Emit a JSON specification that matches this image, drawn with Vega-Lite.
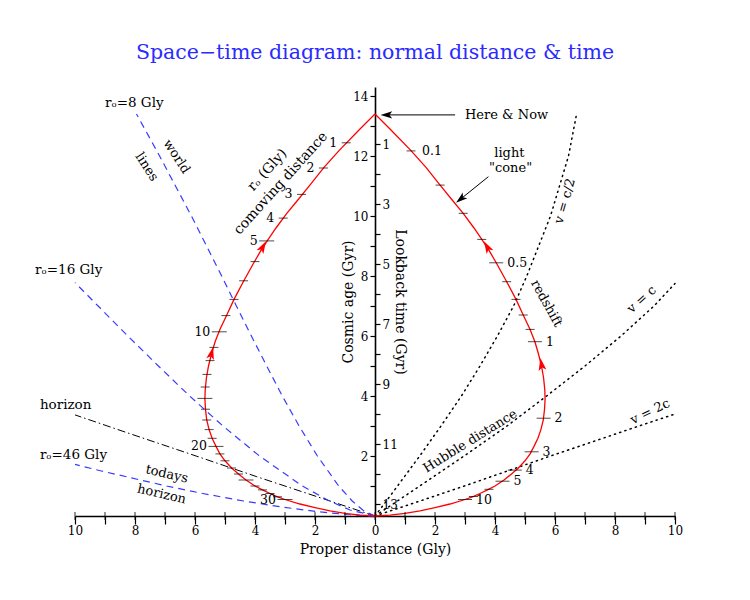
{
"$schema": "https://vega.github.io/schema/vega-lite/v6.json",
"width": 600,
"height": 429,
"autosize": {"type": "none"},
"padding": {"left": 75, "top": 87, "right": 75, "bottom": 84},
"background": "white",
"title": {"text": "Space−time diagram: normal distance & time", "color": "#2b2bff", "font": "DejaVu Serif", "fontSize": 20.5, "fontWeight": "normal", "anchor": "middle", "offset": 24},
"config": {
  "view": {"stroke": null},
  "axis": {"labelFont": "DejaVu Serif", "titleFont": "DejaVu Serif", "labelFontSize": 12, "titleFontSize": 14, "titleFontWeight": "normal", "labelColor": "black", "titleColor": "black", "domainColor": "black", "tickColor": "black", "grid": false, "labelOverlap": false, "labelFlush": false},
  "text": {"font": "DejaVu Serif", "fontSize": 13, "color": "black"}
},
"datasets": {
  "cone": [
    {"b":"R","x":0,"y":13.4},{"b":"R","x":0.5,"y":12.9},{"b":"R","x":1.2,"y":12.18},{"b":"R","x":1.7,"y":11.62},{"b":"R","x":2.17,"y":11.03},{"b":"R","x":2.6,"y":10.5},{"b":"R","x":2.94,"y":10.09},{"b":"R","x":3.3,"y":9.6},{"b":"R","x":3.56,"y":9.22},{"b":"R","x":3.82,"y":8.82},{"b":"R","x":4.04,"y":8.44},{"b":"R","x":4.39,"y":7.81},{"b":"R","x":4.7,"y":7.22},{"b":"R","x":4.94,"y":6.7},{"b":"R","x":5.17,"y":6.22},{"b":"R","x":5.33,"y":5.81},{"b":"R","x":5.45,"y":5.4},{"b":"R","x":5.55,"y":5.0},{"b":"R","x":5.62,"y":4.6},{"b":"R","x":5.66,"y":4.2},{"b":"R","x":5.67,"y":3.9},{"b":"R","x":5.65,"y":3.55},{"b":"R","x":5.61,"y":3.2},{"b":"R","x":5.53,"y":2.88},{"b":"R","x":5.43,"y":2.59},{"b":"R","x":5.3,"y":2.32},{"b":"R","x":5.17,"y":2.07},{"b":"R","x":5.0,"y":1.84},{"b":"R","x":4.78,"y":1.6},{"b":"R","x":4.55,"y":1.4},{"b":"R","x":4.3,"y":1.2},{"b":"R","x":4.0,"y":1.0},{"b":"R","x":3.75,"y":0.87},{"b":"R","x":3.5,"y":0.75},{"b":"R","x":3.25,"y":0.64},{"b":"R","x":3.0,"y":0.55},{"b":"R","x":2.5,"y":0.4},{"b":"R","x":2.0,"y":0.28},{"b":"R","x":1.5,"y":0.17},{"b":"R","x":1.0,"y":0.09},{"b":"R","x":0.5,"y":0.03},{"b":"R","x":0,"y":0},
    {"b":"L","x":0,"y":13.4},{"b":"L","x":-0.5,"y":12.9},{"b":"L","x":-1.2,"y":12.18},{"b":"L","x":-1.7,"y":11.62},{"b":"L","x":-2.17,"y":11.03},{"b":"L","x":-2.6,"y":10.5},{"b":"L","x":-2.94,"y":10.09},{"b":"L","x":-3.3,"y":9.6},{"b":"L","x":-3.56,"y":9.22},{"b":"L","x":-3.82,"y":8.82},{"b":"L","x":-4.04,"y":8.44},{"b":"L","x":-4.39,"y":7.81},{"b":"L","x":-4.7,"y":7.22},{"b":"L","x":-4.94,"y":6.7},{"b":"L","x":-5.17,"y":6.22},{"b":"L","x":-5.33,"y":5.81},{"b":"L","x":-5.45,"y":5.4},{"b":"L","x":-5.55,"y":5.0},{"b":"L","x":-5.62,"y":4.6},{"b":"L","x":-5.66,"y":4.2},{"b":"L","x":-5.67,"y":3.9},{"b":"L","x":-5.65,"y":3.55},{"b":"L","x":-5.61,"y":3.2},{"b":"L","x":-5.53,"y":2.88},{"b":"L","x":-5.43,"y":2.59},{"b":"L","x":-5.3,"y":2.32},{"b":"L","x":-5.17,"y":2.07},{"b":"L","x":-5.0,"y":1.84},{"b":"L","x":-4.78,"y":1.6},{"b":"L","x":-4.55,"y":1.4},{"b":"L","x":-4.3,"y":1.2},{"b":"L","x":-4.0,"y":1.0},{"b":"L","x":-3.75,"y":0.87},{"b":"L","x":-3.5,"y":0.75},{"b":"L","x":-3.25,"y":0.64},{"b":"L","x":-3.0,"y":0.55},{"b":"L","x":-2.5,"y":0.4},{"b":"L","x":-2.0,"y":0.28},{"b":"L","x":-1.5,"y":0.17},{"b":"L","x":-1.0,"y":0.09},{"b":"L","x":-0.5,"y":0.03},{"b":"L","x":0,"y":0}
  ],
  "comoving": [
    {"d":1,"lab":"1","x":-0.96,"y":12.44},{"d":2,"lab":"2","x":-1.72,"y":11.6},{"d":3,"lab":"3","x":-2.45,"y":10.72},{"d":4,"lab":"4","x":-3.06,"y":9.93},{"d":5,"lab":"5","x":-3.61,"y":9.17},{"d":6,"lab":"","x":-4.0,"y":8.48},{"d":7,"lab":"","x":-4.38,"y":7.84},{"d":8,"lab":"","x":-4.7,"y":7.22},{"d":9,"lab":"","x":-4.97,"y":6.68},{"d":10,"lab":"10","x":-5.19,"y":6.14},{"d":11,"lab":"","x":-5.37,"y":5.62},{"d":12,"lab":"","x":-5.5,"y":5.18},{"d":13,"lab":"","x":-5.6,"y":4.72},{"d":14,"lab":"","x":-5.66,"y":4.3},{"d":15,"lab":"","x":-5.67,"y":3.92},{"d":16,"lab":"","x":-5.65,"y":3.56},{"d":17,"lab":"","x":-5.61,"y":3.2},{"d":18,"lab":"","x":-5.53,"y":2.88},{"d":19,"lab":"","x":-5.43,"y":2.59},{"d":20,"lab":"20","x":-5.3,"y":2.32},{"d":21,"lab":"","x":-5.17,"y":2.07},{"d":22,"lab":"","x":-5.0,"y":1.84},{"d":23,"lab":"","x":-4.78,"y":1.6},{"d":24,"lab":"","x":-4.55,"y":1.4},{"d":25,"lab":"","x":-4.3,"y":1.2},{"d":26,"lab":"","x":-4.0,"y":1.0},{"d":27,"lab":"","x":-3.75,"y":0.87},{"d":28,"lab":"","x":-3.5,"y":0.75},{"d":29,"lab":"","x":-3.25,"y":0.64},{"d":30,"lab":"30","x":-3.0,"y":0.55}
  ],
  "redshift": [
    {"z":0.1,"lab":"0.1","x":1.2,"y":12.17},{"z":0.2,"lab":"","x":2.17,"y":11.03},{"z":0.3,"lab":"","x":2.94,"y":10.09},{"z":0.4,"lab":"","x":3.56,"y":9.22},{"z":0.5,"lab":"0.5","x":4.04,"y":8.44},{"z":0.6,"lab":"","x":4.39,"y":7.81},{"z":0.7,"lab":"","x":4.7,"y":7.22},{"z":0.8,"lab":"","x":4.94,"y":6.7},{"z":0.9,"lab":"","x":5.17,"y":6.22},{"z":1,"lab":"1","x":5.33,"y":5.81},{"z":2,"lab":"2","x":5.62,"y":3.26},{"z":3,"lab":"3","x":5.22,"y":2.14},{"z":4,"lab":"4","x":4.66,"y":1.53},{"z":5,"lab":"5","x":4.25,"y":1.16},{"z":6,"lab":"","x":3.8,"y":0.89},{"z":8,"lab":"","x":3.28,"y":0.65},{"z":10,"lab":"10","x":3.0,"y":0.55}
  ],
  "world": [
    {"r":8,"x":-7.95,"y":13.4},{"r":8,"x":-7.18,"y":12},{"r":8,"x":-6.12,"y":10},{"r":8,"x":-5.11,"y":8},{"r":8,"x":-4.62,"y":7},{"r":8,"x":-4.12,"y":6},{"r":8,"x":-3.61,"y":5},{"r":8,"x":-3.09,"y":4},{"r":8,"x":-2.53,"y":3},{"r":8,"x":-1.92,"y":2},{"r":8,"x":-1.21,"y":1},{"r":8,"x":-0.76,"y":0.5},{"r":8,"x":-0.41,"y":0.2},{"r":8,"x":0,"y":0},
    {"r":16,"x":-10,"y":7.78},{"r":16,"x":-9.23,"y":7},{"r":16,"x":-8.24,"y":6},{"r":16,"x":-7.22,"y":5},{"r":16,"x":-6.18,"y":4},{"r":16,"x":-5.07,"y":3},{"r":16,"x":-3.85,"y":2},{"r":16,"x":-2.42,"y":1},{"r":16,"x":-1.52,"y":0.5},{"r":16,"x":-0.83,"y":0.2},{"r":16,"x":0,"y":0},
    {"r":46,"x":-10,"y":1.72},{"r":46,"x":-9.12,"y":1.5},{"r":46,"x":-6.95,"y":1},{"r":46,"x":-5.74,"y":0.75},{"r":46,"x":-4.38,"y":0.5},{"r":46,"x":-3.11,"y":0.3},{"r":46,"x":-1.96,"y":0.15},{"r":46,"x":-0.94,"y":0.05},{"r":46,"x":-0.32,"y":0.01},{"r":46,"x":0,"y":0}
  ],
  "horizon": [
    {"x":-10,"y":3.37},{"x":-8.1,"y":2.72},{"x":-6.17,"y":2.07},{"x":-3.94,"y":1.31},{"x":-1.8,"y":0.6},{"x":0,"y":0}
  ],
  "hubble": [
    {"v":"c/2","x":0,"y":0},{"v":"c/2","x":0.38,"y":0.5},{"v":"c/2","x":0.75,"y":1},{"v":"c/2","x":1.49,"y":2},{"v":"c/2","x":2.2,"y":3},{"v":"c/2","x":2.88,"y":4},{"v":"c/2","x":3.5,"y":5},{"v":"c/2","x":4.08,"y":6},{"v":"c/2","x":4.62,"y":7},{"v":"c/2","x":5.06,"y":8},{"v":"c/2","x":5.85,"y":10},{"v":"c/2","x":6.45,"y":12},{"v":"c/2","x":6.72,"y":13.4},
    {"v":"c","x":0,"y":0},{"v":"c","x":0.75,"y":0.5},{"v":"c","x":1.49,"y":1},{"v":"c","x":2.97,"y":2},{"v":"c","x":4.4,"y":3},{"v":"c","x":5.72,"y":4},{"v":"c","x":7.0,"y":5},{"v":"c","x":8.2,"y":6},{"v":"c","x":9.3,"y":7},{"v":"c","x":10,"y":7.75},
    {"v":"2c","x":0,"y":0},{"v":"2c","x":1.5,"y":0.5},{"v":"2c","x":2.98,"y":1},{"v":"2c","x":5.85,"y":2},{"v":"2c","x":8.8,"y":3},{"v":"2c","x":10,"y":3.4}
  ],
  "xticks": [
    {"x":-10,"y":0},{"x":-9,"y":0},{"x":-8,"y":0},{"x":-7,"y":0},{"x":-6,"y":0},{"x":-5,"y":0},{"x":-4,"y":0},{"x":-3,"y":0},{"x":-2,"y":0},{"x":-1,"y":0},{"x":0,"y":0},{"x":1,"y":0},{"x":2,"y":0},{"x":3,"y":0},{"x":4,"y":0},{"x":5,"y":0},{"x":6,"y":0},{"x":7,"y":0},{"x":8,"y":0},{"x":9,"y":0},{"x":10,"y":0}
  ]
},
"encoding": {
  "x": {"field": "x", "type": "quantitative", "scale": {"domain": [-10, 10], "nice": false, "zero": false},
        "axis": {"title": "Proper distance (Gly)", "values": [-10,-9,-8,-7,-6,-5,-4,-3,-2,-1,0,1,2,3,4,5,6,7,8,9,10],
                 "labelExpr": "datum.value % 2 == 0 ? format(abs(datum.value), 'd') : ''",
                 "tickSize": 8, "tickWidth": 1.2, "domainWidth": 1.6, "labelPadding": 1, "titlePadding": 6}},
  "y": {"field": "y", "type": "quantitative", "scale": {"domain": [0, 14.3], "nice": false, "zero": false}, "axis": null}
},
"resolve": {"axis": {"y": "independent"}},
"layer": [
  {"data": {"name": "hubble"}, "mark": {"type": "line", "color": "black", "strokeWidth": 1.5, "strokeDash": [1.2, 4.3], "strokeCap": "round"},
   "encoding": {"detail": {"field": "v"}, "order": {"field": "y"}}},
  {"data": {"name": "horizon"}, "mark": {"type": "line", "color": "black", "strokeWidth": 1, "strokeDash": [8, 3, 1.5, 3]},
   "encoding": {"order": {"field": "y"}}},
  {"data": {"name": "world"}, "mark": {"type": "line", "color": "#3a3aff", "strokeWidth": 1.2, "strokeDash": [7, 5]},
   "encoding": {"detail": {"field": "r"}, "order": {"field": "y"}}},
  {"data": {"name": "cone"}, "mark": {"type": "line", "color": "#ff0000", "strokeWidth": 1.3},
   "encoding": {
     "y": {"field": "y", "type": "quantitative", "scale": {"domain": [0, 14.3], "nice": false, "zero": false},
           "axis": {"orient": "left", "offset": -300, "values": [0,1,2,3,4,5,6,7,8,9,10,11,12,13,14],
                    "labelExpr": "datum.value % 2 == 0 && datum.value > 0 ? format(datum.value, 'd') : ''",
                    "tickSize": 5, "tickWidth": 1.2, "domainWidth": 1.6, "labelPadding": 2, "title": "Cosmic age (Gyr)", "titlePadding": -3}},
     "detail": {"field": "b"}, "order": {"field": "y"}}},
  {"data": {"name": "comoving"}, "transform": [{"filter": "datum.d % 5 != 0"}],
   "mark": {"type": "tick", "orient": "horizontal", "size": 9, "thickness": 1, "color": "black"}},
  {"data": {"name": "comoving"}, "transform": [{"filter": "datum.d % 5 == 0"}],
   "mark": {"type": "tick", "orient": "horizontal", "size": 15, "thickness": 1, "color": "black"}},
  {"data": {"name": "redshift"}, "transform": [{"filter": {"not": {"field": "z", "oneOf": [0.5, 1, 2, 3, 4, 5, 10]}}}],
   "mark": {"type": "tick", "orient": "horizontal", "size": 9, "thickness": 1, "color": "black"},
   "encoding": {
     "y": {"field": "y", "type": "quantitative", "scale": {"domain": [0, 14.3], "nice": false, "zero": false},
           "axis": {"orient": "right", "offset": -300, "values": [12.4,11.4,10.4,9.4,8.4,7.4,6.4,5.4,4.4,3.4,2.4,1.4,0.4],
                    "labelExpr": "round(13.4 - datum.value) % 2 == 1 ? format(round(13.4 - datum.value), 'd') : ''",
                    "tickSize": 5, "tickWidth": 1.2, "domain": false, "labelPadding": 2, "title": "Lookback time (Gyr)", "titlePadding": -5}}}},
  {"data": {"name": "redshift"}, "transform": [{"filter": {"field": "z", "oneOf": [0.5, 1, 2, 3, 4, 5, 10]}}],
   "mark": {"type": "tick", "orient": "horizontal", "size": 14, "thickness": 1, "color": "black"}},
  {"data": {"name": "comoving"}, "transform": [{"filter": "datum.lab != ''"}],
   "mark": {"type": "text", "align": "right", "dx": -9, "fontSize": 12.5},
   "encoding": {"text": {"field": "lab"}}},
  {"data": {"name": "redshift"}, "transform": [{"filter": "datum.lab != ''"}],
   "mark": {"type": "text", "align": "left", "dx": 11, "fontSize": 12.5},
   "encoding": {"text": {"field": "lab"}}},
  {"data": {"values": [{"x": -3.74, "y": 8.97}]}, "mark": {"type": "point", "shape": "M0,-1L0.6,0.9L0,0.45L-0.6,0.9Z", "filled": true, "color": "#ff0000", "opacity": 1, "size": 170, "angle": 29}},
  {"data": {"values": [{"x": -5.45, "y": 5.42}]}, "mark": {"type": "point", "shape": "M0,-1L0.6,0.9L0,0.45L-0.6,0.9Z", "filled": true, "color": "#ff0000", "opacity": 1, "size": 170, "angle": 14}},
  {"data": {"values": [{"x": 3.74, "y": 8.97}]}, "mark": {"type": "point", "shape": "M0,-1L0.6,0.9L0,0.45L-0.6,0.9Z", "filled": true, "color": "#ff0000", "opacity": 1, "size": 170, "angle": 331}},
  {"data": {"values": [{"x": 5.55, "y": 5.05}]}, "mark": {"type": "point", "shape": "M0,-1L0.6,0.9L0,0.45L-0.6,0.9Z", "filled": true, "color": "#ff0000", "opacity": 1, "size": 170, "angle": 350}},
  {"data": {"values": [{"a": "h", "x": 2.67, "y": 13.37}, {"a": "h", "x": 0.45, "y": 13.37}, {"a": "c", "x": 3.78, "y": 11.31}, {"a": "c", "x": 2.86, "y": 10.57}]},
   "mark": {"type": "line", "color": "black", "strokeWidth": 1},
   "encoding": {"detail": {"field": "a"}}},
  {"data": {"values": [{"x": 0.39, "y": 13.37}]}, "mark": {"type": "point", "shape": "M0,-1L0.6,0.9L0,0.45L-0.6,0.9Z", "filled": true, "color": "black", "opacity": 1, "size": 150, "angle": 270}},
  {"data": {"values": [{"x": 2.86, "y": 10.57}]}, "mark": {"type": "point", "shape": "M0,-1L0.6,0.9L0,0.45L-0.6,0.9Z", "filled": true, "color": "black", "opacity": 1, "size": 150, "angle": 231}},
  {"data": {"values": [{"x": -9.0, "y": 13.77, "t": "rₒ=8 Gly"}, {"x": -11.33, "y": 8.2, "t": "rₒ=16 Gly"}, {"x": -11.17, "y": 2.03, "t": "rₒ=46 Gly"}, {"x": -11.17, "y": 3.7, "t": "horizon"}]},
   "mark": {"type": "text", "align": "left", "fontSize": 13.5}, "encoding": {"text": {"field": "t"}}},
  {"data": {"values": [{"x": 3.0, "y": 13.37, "t": "Here & Now"}]},
   "mark": {"type": "text", "align": "left", "fontSize": 13}, "encoding": {"text": {"field": "t"}}},
  {"data": {"values": [{"x": 4.48, "y": 12.11, "t": "light"}, {"x": 4.52, "y": 11.59, "t": "\"cone\""}]},
   "mark": {"type": "text", "align": "center", "fontSize": 13}, "encoding": {"text": {"field": "t"}}},
  {"data": {"values": [{"x": -6.61, "y": 11.98, "t": "world"}, {"x": -7.61, "y": 11.64, "t": "lines"}]},
   "mark": {"type": "text", "align": "center", "angle": 57}, "encoding": {"text": {"field": "t"}}},
  {"data": {"values": [{"x": -3.59, "y": 11.53, "t": "rₒ (Gly)"}, {"x": -3.14, "y": 11.09, "t": "comoving distance"}]},
   "mark": {"type": "text", "align": "center", "angle": -48, "fontSize": 14}, "encoding": {"text": {"field": "t"}}},
  {"data": {"values": [{"x": 6.33, "y": 10.5, "t": "v = c/2"}]},
   "mark": {"type": "text", "align": "center", "angle": -74}, "encoding": {"text": {"field": "t"}}},
  {"data": {"values": [{"x": 5.72, "y": 7.09, "t": "redshift"}]},
   "mark": {"type": "text", "align": "center", "angle": 61}, "encoding": {"text": {"field": "t"}}},
  {"data": {"values": [{"x": 8.89, "y": 7.22, "t": "v = c"}]},
   "mark": {"type": "text", "align": "center", "angle": -42}, "encoding": {"text": {"field": "t"}}},
  {"data": {"values": [{"x": 9.17, "y": 3.48, "t": "v = 2c"}]},
   "mark": {"type": "text", "align": "center", "angle": -26}, "encoding": {"text": {"field": "t"}}},
  {"data": {"values": [{"x": 3.17, "y": 2.5, "t": "Hubble distance"}]},
   "mark": {"type": "text", "align": "center", "angle": -32}, "encoding": {"text": {"field": "t"}}},
  {"data": {"values": [{"x": -6.94, "y": 1.4, "t": "todays"}, {"x": -7.11, "y": 0.73, "t": "horizon"}]},
   "mark": {"type": "text", "align": "center", "angle": 13}, "encoding": {"text": {"field": "t"}}},
  {"data": {"name": "xticks"}, "mark": {"type": "tick", "orient": "vertical", "size": 8, "thickness": 1.2, "color": "black"}}
]
}
